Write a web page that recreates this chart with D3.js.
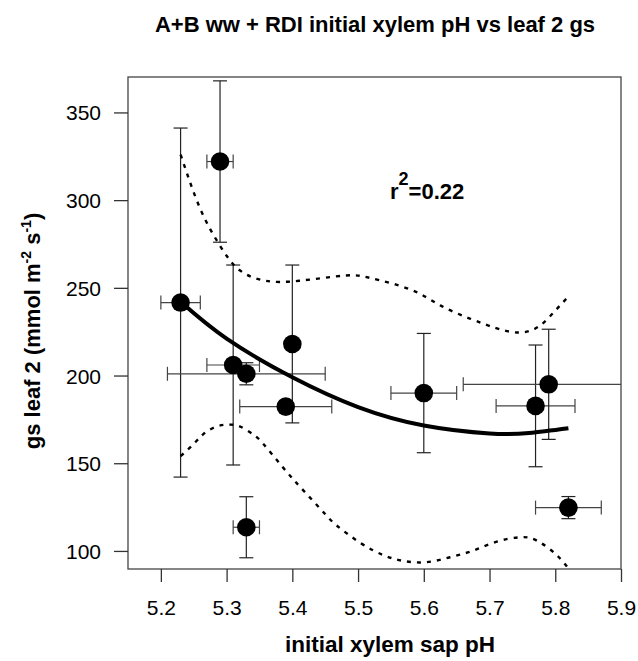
<!DOCTYPE html>
<meta charset="utf-8">
<body style="margin:0;background:#fff">
<script src="https://d3js.org/d3.v7.min.js"></script>
<script>

var W = 638, H = 661;
var M = {l: 128, r: 17, t: 77, b: 92};

// measured points: x = initial xylem sap pH, y = gs leaf 2
var phVals = [5.23, 5.29, 5.31, 5.33, 5.40, 5.39, 5.33, 5.60, 5.77, 5.79, 5.82];
var gsVals = [241.6, 322, 206, 201, 218, 182.3, 113.5, 190, 182.7, 195, 124.7];
var phErr  = [0.03, 0.02, 0.04, 0.12, 0, 0.07, 0.02, 0.05, 0.06, 0.13, 0.05];
var gsErr  = [99.5, 46, 57, 6.3, 45, 0, 17.4, 34, 34.7, 31.4, 6.3];

// fitted line and confidence band
var fitLine = [[5.23,242],[5.30,221],[5.40,199],[5.50,182],[5.60,171.5],[5.70,167],[5.76,167.3],[5.82,170]];
var upperBand = [[5.23,326],[5.26,295],[5.29,274],[5.32,260],[5.36,254],[5.41,254],[5.48,257],[5.52,255.5],
  [5.58,249],[5.625,240],[5.67,232.5],[5.71,227],[5.745,224.5],[5.775,228],[5.80,237],[5.82,245]];
var lowerBand = [[5.23,154],[5.25,161],[5.265,166.7],[5.285,171],[5.303,172],[5.32,171],[5.34,166.5],[5.356,161],
  [5.386,147.5],[5.417,134.4],[5.45,121],[5.4675,114.5],[5.503,104.7],[5.538,97.7],[5.569,94.3],[5.604,93.6],
  [5.64,96.4],[5.675,100.2],[5.711,105.3],[5.746,107.8],[5.772,105.9],[5.802,97.7],[5.82,90]];

var xTicks = [5.2, 5.3, 5.4, 5.5, 5.6, 5.7, 5.8, 5.9];
var yTicks = [100, 150, 200, 250, 300, 350];

var font = "'Liberation Sans', Arial, sans-serif";

var svg = d3.select('body').append('svg')
    .attr('width', W)
    .attr('height', H)
    .style('font-family', font);

var x = d3.scaleLinear().domain([5.15, 5.9]).range([M.l, W - M.r]);
var y = d3.scaleLinear().domain([89.7, 370.2]).range([H - M.b, M.t]);

svg.append('clipPath').attr('id', 'plotclip')
  .append('rect')
    .attr('x', M.l).attr('y', M.t)
    .attr('width', W - M.r - M.l).attr('height', H - M.b - M.t);

var g = svg.append('g').attr('clip-path', 'url(#plotclip)');

// error bars
var pts = phVals.map((v, i) => ({x: v, y: gsVals[i], ex: phErr[i], ey: gsErr[i]}));
var barCol = '#222', cap = 7;
pts.forEach(p => {
  if (p.ey > 0) {
    g.append('line')
      .attr('x1', x(p.x)).attr('x2', x(p.x))
      .attr('y1', y(p.y - p.ey)).attr('y2', y(p.y + p.ey))
      .attr('stroke', barCol).attr('stroke-width', 1.2);
    [p.y - p.ey, p.y + p.ey].forEach(v => {
      g.append('line')
        .attr('x1', x(p.x) - cap).attr('x2', x(p.x) + cap)
        .attr('y1', y(v)).attr('y2', y(v))
        .attr('stroke', barCol).attr('stroke-width', 1.2);
    });
  }
  if (p.ex > 0) {
    g.append('line')
      .attr('x1', x(p.x - p.ex)).attr('x2', x(p.x + p.ex))
      .attr('y1', y(p.y)).attr('y2', y(p.y))
      .attr('stroke', '#444').attr('stroke-width', 1.2);
    [p.x - p.ex, p.x + p.ex].forEach(v => {
      g.append('line')
        .attr('x1', x(v)).attr('x2', x(v))
        .attr('y1', y(p.y) - cap).attr('y2', y(p.y) + cap)
        .attr('stroke', '#444').attr('stroke-width', 1.2);
    });
  }
});

var line = d3.line()
    .x(d => x(d[0]))
    .y(d => y(d[1]))
    .curve(d3.curveNatural);

[upperBand, lowerBand].forEach(b => {
  g.append('path')
    .attr('d', line(b))
    .attr('fill', 'none')
    .attr('stroke', '#000')
    .attr('stroke-width', 2.4)
    .attr('stroke-dasharray', '4 6');
});

g.append('path')
  .attr('d', line(fitLine))
  .attr('fill', 'none')
  .attr('stroke', '#000')
  .attr('stroke-width', 4);

g.selectAll('circle.pt')
  .data(pts)
  .enter().append('circle')
    .attr('class', 'pt')
    .attr('cx', d => x(d.x))
    .attr('cy', d => y(d.y))
    .attr('r', 9.3)
    .attr('fill', '#000');

// box
svg.append('rect')
  .attr('x', M.l).attr('y', M.t)
  .attr('width', W - M.r - M.l).attr('height', H - M.b - M.t)
  .attr('fill', 'none')
  .attr('stroke', '#444')
  .attr('stroke-width', 1.3);

// axes
var xAxis = svg.append('g')
    .attr('transform', `translate(0,${H - M.b})`)
    .call(d3.axisBottom(x).tickValues(xTicks).tickSize(13).tickPadding(12).tickFormat(d3.format('.1f')));
var yAxis = svg.append('g')
    .attr('transform', `translate(${M.l},0)`)
    .call(d3.axisLeft(y).tickValues(yTicks).tickSize(14).tickPadding(13));

[xAxis, yAxis].forEach(a => {
  a.select('.domain').remove();
  a.selectAll('.tick line').attr('stroke', '#333').attr('stroke-width', 1.3);
  a.selectAll('.tick text')
    .attr('font-family', font)
    .attr('font-size', 21)
    .attr('fill', '#000');
});
xAxis.selectAll('.tick text').attr('dy', null).attr('y', 46);
yAxis.selectAll('.tick text').attr('dy', '0.36em');

// title
svg.append('text')
  .attr('x', 375)
  .attr('y', 32)
  .attr('text-anchor', 'middle')
  .attr('font-size', 22)
  .attr('font-weight', 'bold')
  .text('A+B ww + RDI initial xylem pH vs leaf 2 gs');

// x label
svg.append('text')
  .attr('x', 390)
  .attr('y', 652)
  .attr('text-anchor', 'middle')
  .attr('font-size', 22.5)
  .attr('font-weight', 'bold')
  .text('initial xylem sap pH');

// y label
var yl = svg.append('text')
  .attr('transform', 'translate(40,331) rotate(-90)')
  .attr('text-anchor', 'middle')
  .attr('font-size', 22)
  .attr('font-weight', 'bold');
yl.append('tspan').text('gs leaf 2 (mmol m');
yl.append('tspan').attr('dy', -9).attr('font-size', 14).text('-2');
yl.append('tspan').attr('dy', 9).text(' s');
yl.append('tspan').attr('dy', -9).attr('font-size', 14).text('-1');
yl.append('tspan').attr('dy', 9).text(')');

// r squared
var rt = svg.append('text')
  .attr('x', 390)
  .attr('y', 199)
  .attr('font-size', 22)
  .attr('font-weight', 'bold');
rt.append('tspan').text('r');
rt.append('tspan').attr('dy', -14).attr('font-size', 18).text('2');
rt.append('tspan').attr('dy', 14).text('=0.22');

</script>
</body>
